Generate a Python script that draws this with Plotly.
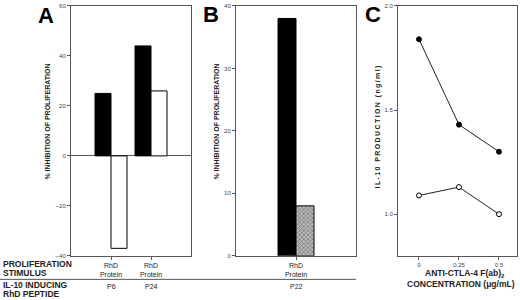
import plotly.graph_objects as go

# ---- data ----
a_groups = [1, 2]
a_group_labels = ["RhD<br>Protein", "RhD<br>Protein"]
a_peptides = ["P6", "P24"]
a_black = [25, 44]
a_white = [-37, 26]

b_groups = [1]
b_group_labels = ["RhD<br>Protein"]
b_peptides = ["P22"]
b_black = [38]
b_hatched = [8]

c_conc = [0, 0.25, 0.5]
c_conc_labels = ["0", "0.25", "0.5"]
c_filled = [1.84, 1.43, 1.30]
c_open = [1.09, 1.13, 1.00]

W, H = 520, 300
def px(x): return x / W
def py(y): return 1 - y / H

FONT = "Liberation Sans, Arial, sans-serif"
AX = "#555555"
TICKC = "#444444"
TS = "\u2009"  # thin space for letter spacing

def spaced(s):
    return TS.join(list(s))

fig = go.Figure()

# Panel A
fig.add_trace(go.Bar(x=a_groups, y=a_black, width=0.4, offset=-0.4,
                     marker=dict(color="black", line=dict(color="black", width=1)),
                     xaxis="x", yaxis="y", showlegend=False))
fig.add_trace(go.Bar(x=a_groups, y=a_white, width=0.4, offset=0,
                     marker=dict(color="white", line=dict(color="black", width=1)),
                     xaxis="x", yaxis="y", showlegend=False))
# Panel B
fig.add_trace(go.Bar(x=b_groups, y=b_black, width=0.3, offset=-0.3,
                     marker=dict(color="black", line=dict(color="black", width=1)),
                     xaxis="x2", yaxis="y2", showlegend=False))
fig.add_trace(go.Bar(x=b_groups, y=b_hatched, width=0.3, offset=0,
                     marker=dict(color="white", line=dict(color="black", width=1),
                                 pattern=dict(shape="x", fgcolor="#222222", bgcolor="#bbbbbb",
                                              size=3, solidity=0.4)),
                     xaxis="x2", yaxis="y2", showlegend=False))
# Panel C
fig.add_trace(go.Scatter(x=c_conc, y=c_filled, mode="lines+markers",
                         line=dict(color="#222222", width=1),
                         marker=dict(color="black", size=5, line=dict(color="black", width=1)),
                         xaxis="x3", yaxis="y3", showlegend=False))
fig.add_trace(go.Scatter(x=c_conc, y=c_open, mode="lines+markers",
                         line=dict(color="#222222", width=1),
                         marker=dict(color="white", size=5, line=dict(color="black", width=1)),
                         xaxis="x3", yaxis="y3", showlegend=False))

ydom = [py(258), py(3)]
common_ax = dict(showline=True, linecolor=AX, linewidth=1, mirror=True, showgrid=False,
                 ticks="outside", ticklen=3, tickcolor=AX,
                 tickfont=dict(family=FONT, size=6, color=TICKC))

fig.update_layout(
    width=W, height=H, margin=dict(l=0, r=0, t=0, b=0),
    plot_bgcolor="white", paper_bgcolor="white", barmode="overlay",
    xaxis=dict(domain=[px(71), px(191)], range=[0, 3], tickvals=a_groups, ticktext=a_group_labels,
               zeroline=False, anchor="y", **{**common_ax, "tickfont": dict(family=FONT, size=7, color="#222")}),
    yaxis=dict(domain=ydom, range=[-40, 60], tickvals=[-40, -20, 0, 20, 40, 60],
               zeroline=True, zerolinecolor=AX, zerolinewidth=1, anchor="x", **common_ax),
    xaxis2=dict(domain=[px(236), px(356)], range=[0, 2], tickvals=b_groups, ticktext=b_group_labels,
                zeroline=False, anchor="y2", **{**common_ax, "tickfont": dict(family=FONT, size=7, color="#222")}),
    yaxis2=dict(domain=ydom, range=[0, 40], tickvals=[0, 10, 20, 30, 40],
                zeroline=False, anchor="x2", **common_ax),
    xaxis3=dict(domain=[px(398), px(517)], range=[-0.131, 0.6125], tickvals=c_conc, ticktext=c_conc_labels,
                zeroline=False, anchor="y3", **common_ax),
    yaxis3=dict(domain=ydom, range=[0.8, 2.0], tickvals=[1.0, 1.5, 2.0], ticktext=["1.0", "1.5", "2.0"],
                zeroline=False, anchor="x3", **common_ax),
)

anns = []
def ann(text, x, y, size=7, bold=True, xanchor="center", yanchor="middle", angle=0, color="#222222",
        align="left"):
    t = f"<b>{text}</b>" if bold else text
    anns.append(dict(text=t, x=px(x), y=py(y), xref="paper", yref="paper", showarrow=False,
                     xanchor=xanchor, yanchor=yanchor, textangle=angle, align=align,
                     font=dict(family=FONT, size=size, color=color)))

# Panel letters
ann("A", 46, 13, size=22, color="black")
ann("B", 211, 12, size=22, color="black")
ann("C", 373, 12, size=22, color="black")

# Y titles
ann("% INHIBITION OF PROLIFERATION", 48, 121, size=7, angle=-90)
ann("% INHIBITION OF PROLIFERATION", 217, 121, size=7, angle=-90)
ann(spaced("IL-10 PRODUCTION (ng/ml)"), 378, 127, size=7, angle=-90)

# Row labels
ann("PROLIFERATION", 1, 266.5, size=8.5, xanchor="left")
ann("STIMULUS", 1, 275.5, size=8.5, xanchor="left")
ann("IL-10 INDUCING", 1, 288, size=8.5, xanchor="left")
ann("RhD PEPTIDE", 1, 296.5, size=8.5, xanchor="left")

# Peptide labels
for g, p in zip(a_groups, a_peptides):
    ann(p, 71 + g * 40, 289, size=7, bold=False)
for g, p in zip(b_groups, b_peptides):
    ann(p, 236 + g * 60, 289, size=7, bold=False)

# Panel C x title
ann("ANTI-CTLA-4 F(ab)<sub>2</sub>", 465, 276, size=8.5)
ann("CONCENTRATION (μg/mL)", 461, 287, size=8.5)

fig.update_layout(annotations=anns)
fig.add_shape(type="line", xref="paper", yref="paper", x0=0, x1=px(356), y0=py(282), y1=py(282),
              line=dict(color=AX, width=1))

fig.write_html("out.html", config={"displayModeBar": False},
               post_script="document.body.style.margin='0';document.body.style.overflow='hidden';")
